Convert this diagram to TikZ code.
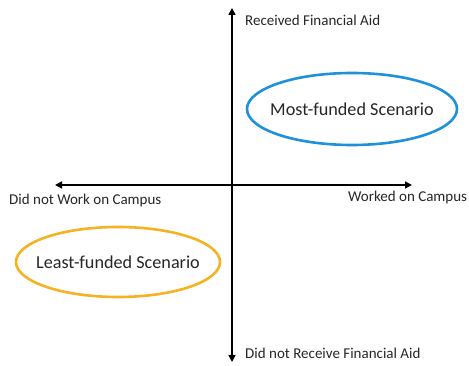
\documentclass[tikz,border=0pt]{standalone}
\usepackage{fontspec}
\setmainfont{Carlito}
\usetikzlibrary{arrows.meta}
\definecolor{mostblue}{RGB}{31,145,218}
\definecolor{leastgold}{RGB}{245,178,34}
\definecolor{inktext}{RGB}{38,38,38}
\tikzset{
	axis/.style={line width=1.6pt, {Triangle[length=7pt,width=7pt]}-{Triangle[length=7pt,width=7pt]}},
	axislabel/.style={font=\fontsize{15}{17}\selectfont, text=inktext, inner sep=0pt},
	scenario/.style={font=\fontsize{18.2}{21}\selectfont, text=inktext, inner sep=0pt},
	ring/.style={line width=2.6pt}
}

\begin{document}
\begin{tikzpicture}[x=1pt, y=1pt]
	% canvas: 469 x 366 px, y measured from the bottom
	\useasboundingbox (0,0) rectangle (469,366);
	
	% axis end points
	\coordinate (top) at (232,358);
	\coordinate (bottom) at (232,4);
	\coordinate (left) at (55,181);
	\coordinate (right) at (412,181);
	
	% axes
	\draw[axis] (bottom) -- (top);
	\draw[axis] (left) -- (right);
	
	% axis labels
	\node[axislabel, anchor=west] (aid) at (245,346) {Received Financial Aid};
	\node[axislabel, anchor=west] (noaid) at (245,13) {Did not Receive Financial Aid};
	\node[axislabel, anchor=west] (nowork) at (9,165) {Did not Work on Campus};
	\node[axislabel, anchor=west] (work) at (348,168) {Worked on Campus};
	
	% scenarios
	\node[scenario] (most) at (352,257) {Most-funded Scenario};
	\draw[ring, mostblue] (most) ellipse [x radius=105, y radius=36];
	\node[scenario] (least) at (118,104) {Least-funded Scenario};
	\draw[ring, leastgold] (least) ellipse [x radius=102, y radius=35];
\end{tikzpicture}
\end{document}
